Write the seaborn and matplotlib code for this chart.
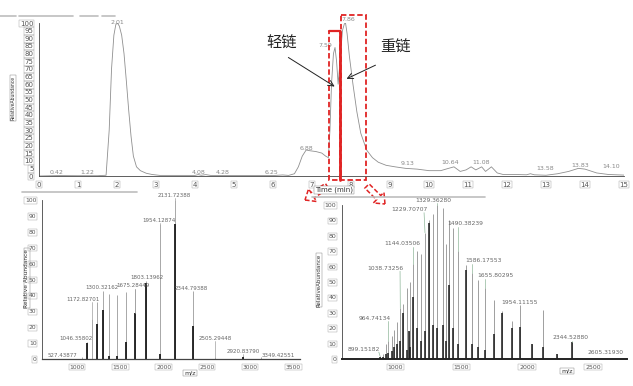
import matplotlib
matplotlib.use("Agg")
import numpy as np
import pandas as pd
import seaborn as sns
from matplotlib import pyplot as plt
from matplotlib.patches import Rectangle, FancyArrow
from matplotlib.ticker import MultipleLocator

sns.set_style("white")
plt.rcParams['font.family'] = ['DejaVu Sans', 'Noto Sans CJK SC']

# --- chromatogram (time in min, relative abundance %) ---
chrom_time = [0, 0.5, 1.0, 1.5, 1.72, 1.8, 1.86, 1.92, 1.97, 2.01, 2.06, 2.12, 2.18, 2.24,
              2.3, 2.36, 2.42, 2.5, 2.6, 2.75, 2.9, 3.1, 4.0, 4.08, 4.16, 4.28, 4.4, 5.0,
              6.0, 6.25, 6.4, 6.55, 6.65, 6.75, 6.85, 6.95, 7.1, 7.25, 7.35, 7.42, 7.46,
              7.5, 7.55, 7.59, 7.63, 7.67, 7.72, 7.78, 7.83, 7.86, 7.9, 7.96, 8.05, 8.15,
              8.25, 8.4, 8.55, 8.7, 8.9, 9.13, 9.4, 9.7, 10.0, 10.3, 10.5, 10.64, 10.8,
              10.95, 11.08, 11.2, 11.35, 11.45, 11.6, 11.75, 11.9, 12.2, 12.5, 12.6, 12.7,
              13.0, 13.3, 13.58, 13.83, 14.0, 14.3, 14.6, 15.0]
chrom_int = [0, 0.3, 0.2, 0.2, 0.5, 30, 70, 92, 99, 100, 98, 92, 80, 62,
             43, 26, 13, 6, 3.5, 1.8, 1, 0.4, 0.4, 0.9, 0.5, 0.9, 0.4, 0.3,
             0.3, 0.7, 0.4, 1.5, 6, 13, 17, 16.5, 16, 15, 13, 12, 30,
             60, 80, 84, 75, 60, 75, 95, 99.5, 100, 93, 78, 60, 42,
             28, 17, 12, 9, 7, 6, 5, 4.5, 3.5, 3.5, 5, 6, 3,
             4, 6, 4, 6, 3, 6, 2, 1, 1, 0.8, 1.5, 0.8,
             0.5, 1.5, 3, 5, 4.5, 2, 1, 0.6]
lc_labels = ['0.42', '1.22', '2.01', '4.08', '4.28', '6.25', '6.88', '7.59', '7.86',
             '9.13', '10.64', '11.08', '13.58', '13.83', '14.10']
lc_label_x = [0.46, 1.23, 2.0, 4.08, 4.72, 5.97, 6.87, 7.33, 7.92, 9.44, 10.54, 11.33, 12.97, 13.87, 14.68]
lc_label_y = [2, 2, 100.6, 2, 2, 2, 18.3, 85.6, 102.6, 8.5, 9, 9, 5.2, 7, 6]

# --- light chain spectrum (left) ---
lch_mz = [1054, 1112, 1170, 1227, 1297, 1373, 1458, 1562, 1673, 1800, 1955, 2128, 2343, 2594, 2920, 3121]
lch_int = [1.5, 10.5, 25, 36, 43, 41, 40, 42, 44, 49, 85, 100, 43, 1, 2.5, 1.5]
lch_dark_mz = [1112, 1227, 1297, 1373, 1458, 1562, 1673, 1800, 1955, 2128, 2343, 2920]
lch_dark_int = [10, 22, 31, 2, 2, 11, 29, 48, 3, 85, 21, 1.5]
lch_labels = ['527.43877', '1046.35802', '1172.82701', '1300.32162', '1675.28449', '1803.13962',
              '1954.12874', '2131.72388', '2344.79388', '2505.29448', '2920.83790', '3349.42551']
lch_label_x = [827, 988, 1069, 1289, 1647, 1808, 1947, 2120, 2316, 2594, 2917, 3321]
lch_label_y = [2.1, 12.6, 37.7, 45, 46, 51, 87.4, 103, 44.5, 13.2, 5, 2.5]
lch_target_x = [1054, 1112, 1170, 1297, 1673, 1800, 1955, 2128, 2343, 2594, 2920, 3121]
lch_target_y = [0.5, 10.5, 25, 43, 29, 49, 85, 100, 43, 1, 2.5, 1.5]

# --- heavy chain spectrum (right) ---
hch_mz = [886, 909, 932, 949, 975, 995, 1017, 1040, 1063, 1089, 1108, 1114, 1139, 1169, 1195,
          1227, 1258, 1286, 1320, 1366, 1386, 1411, 1442, 1480, 1536, 1581, 1631, 1682, 1752,
          1813, 1884, 1947, 2040, 2123, 2225, 2339]
hch_int = [2, 3, 10, 12, 15, 19, 24, 33, 36, 46, 18, 50, 62, 70, 68,
           82, 90, 94, 100, 98, 75, 90, 85, 70, 61, 56, 51, 46, 38,
           31, 25, 35, 10, 32, 3, 11]
hch_dark_int = [1, 1, 3, 4, 5, 8, 10, 12, 30, 6, 18, 8, 40, 20, 12,
                18, 88, 22, 20, 22, 12, 48, 20, 10, 58, 10, 8, 6, 16,
                30, 20, 21, 10, 8, 3, 11]
hch_labels = ['899.15182', '964.74134', '1038.73256', '1144.03506', '1229.70707', '1329.36280',
              '1490.38239', '1586.17553', '1655.80295', '1954.11155', '2344.52880', '2605.31930']
hch_label_x = [763, 846, 924, 1057, 1106, 1288, 1534, 1667, 1758, 1943, 2333, 2598]
hch_label_y = [6.5, 26.6, 59, 75, 97, 103, 88, 64, 54, 37, 14, 4]
hch_target_x = [886, 949, 1040, 1139, 1227, 1320, 1480, 1581, 1682, 1947, 2339, 2598]
hch_target_y = [2, 12, 33, 62, 82, 100, 70, 56, 46, 35, 11, 2]

GRAY = '#555555'


def xcal_axes(ax, xticks, xminor, yticks, yminor, fs):
    sns.despine(ax=ax)
    for side in ('left', 'bottom'):
        ax.spines[side].set_color('#444444')
        ax.spines[side].set_linewidth(0.6)
    ax.set_xticks(xticks)
    ax.set_yticks(yticks)
    ax.xaxis.set_minor_locator(MultipleLocator(xminor))
    ax.yaxis.set_minor_locator(MultipleLocator(yminor))
    ax.tick_params(which='major', length=2.5, width=0.5, labelsize=fs, pad=1.5, colors=GRAY)
    ax.tick_params(which='minor', length=1.3, width=0.4, colors=GRAY)
    ax.set_xlabel('')
    ax.set_ylabel('')
    ax.set_facecolor('none')
    for lab in ax.get_xticklabels() + ax.get_yticklabels():
        lab.set_bbox(dict(boxstyle='square,pad=0.12', fc='none', ec='#9a9a9a', lw=0.3))


def label_peaks(ax, labels, lx, ly, tx, ty, hw, fs, lead):
    for s, x, y, px, py in zip(labels, lx, ly, tx, ty):
        ax.text(x, y, s, ha='center', va='center', fontsize=fs, color='#666666', clip_on=False)
        ax_x = min(max(px, x - hw), x + hw)
        if py < y - 2:
            ax.plot([ax_x, px], [y - 2, py], color=lead, lw=0.5, clip_on=False)


fig = plt.figure(figsize=(6.33, 3.86), dpi=100)

# chromatogram
ax_lc = fig.add_axes([0.0616, 0.544, 0.9242, 0.3964])
sns.lineplot(x=chrom_time, y=chrom_int, ax=ax_lc, color='#8f8f8f', linewidth=0.6)
ax_lc.set_xlim(0, 15)
ax_lc.set_ylim(0, 100)
xcal_axes(ax_lc, list(range(0, 16)), 0.2, list(range(0, 101, 5)), 1, 5)
for s, x, y in zip(lc_labels, lc_label_x, lc_label_y):
    ax_lc.text(x, y, s, ha='center', va='center', fontsize=4.5, color='#888888', clip_on=False)

# light chain spectrum
ax_l = fig.add_axes([0.0664, 0.0699, 0.4076, 0.4119])
ax_l.vlines(lch_mz, 0, lch_int, color='#9a9a9a', lw=0.6)
ax_l.vlines(lch_dark_mz, 0, lch_dark_int, color='#1a1a1a', lw=1.3)
ax_l.set_xlim(596, 3575)
ax_l.set_ylim(0, 100)
xcal_axes(ax_l, [1000, 1500, 2000, 2500, 3000, 3500], 50, list(range(0, 101, 10)), 5, 4.3)
ax_l.spines['bottom'].set_linewidth(0.9)
label_peaks(ax_l, lch_labels, lch_label_x, lch_label_y, lch_target_x, lch_target_y, 144, 4.0, '#a0a0a0')

# heavy chain spectrum
ax_h = fig.add_axes([0.5403, 0.0699, 0.4502, 0.399])
ax_h.vlines(hch_mz, 0, hch_int, color='#8f8f8f', lw=0.6)
ax_h.vlines(hch_mz, 0, hch_dark_int, color='#1a1a1a', lw=1.1)
ax_h.set_xlim(598, 2758)
ax_h.set_ylim(0, 100)
xcal_axes(ax_h, [1000, 1500, 2000, 2500], 50, list(range(0, 101, 10)), 5, 4.5)
ax_h.spines['bottom'].set_linewidth(1.4)
ax_h.spines['bottom'].set_color('#222222')
label_peaks(ax_h, hch_labels, hch_label_x, hch_label_y, hch_target_x, hch_target_y, 114, 4.3, '#8fb79a')

# overlay in pixel coordinates for annotations
ov = fig.add_axes([0, 0, 1, 1], zorder=10)
ov.set_xlim(0, 633)
ov.set_ylim(386, 0)
ov.axis('off')

for x0, x1, y in [(0, 16, 16), (19, 73, 16), (80, 98, 16), (102, 115, 16),
                  (22, 137, 192), (312, 485, 197)]:
    ov.plot([x0, x1], [y, y], color='#bdbdbd', lw=1.2)

box = dict(boxstyle='square,pad=0.15', fc='none', ec='#777777', lw=0.3)
ov.text(13, 98, 'RelativeAbundance', rotation=90, ha='center', va='center', fontsize=3.3, color='#333333', bbox=box)
ov.text(27, 278, 'Relative Abundance', rotation=90, ha='center', va='center', fontsize=4.2, color='#333333', bbox=box)
ov.text(319, 280, 'RelativeAbundance', rotation=90, ha='center', va='center', fontsize=4.0, color='#333333', bbox=box)
ov.text(334, 190, 'Time (min)', ha='center', va='center', fontsize=5, color='#333333',
        bbox=dict(boxstyle='square,pad=0.15', fc='white', ec='#777777', lw=0.3))
ov.text(190, 373, 'm/z', ha='center', va='center', fontsize=4.5, color='#333333', bbox=box)
ov.text(567, 371, 'm/z', ha='center', va='center', fontsize=4.5, color='#333333', bbox=box)

RED = '#e02424'
ov.add_patch(Rectangle((329, 31), 10.5, 149, fill=False, ec=RED, lw=1.3, ls=(0, (3, 1.5))))
ov.add_patch(Rectangle((341, 15), 25, 165, fill=False, ec=RED, lw=1.3, ls=(0, (3, 1.5))))
ov.plot([339.5, 339.5], [31, 180], color=RED, lw=2)
ov.plot([329, 339.5], [31, 31], color=RED, lw=1.6)
ov.add_patch(FancyArrow(327, 186, -22, 14, width=6, head_width=15, head_length=9,
                        length_includes_head=True, fill=False, ec=RED, lw=1.1, ls=(0, (3, 1.5))))
ov.add_patch(FancyArrow(367, 186, 18, 18, width=6, head_width=15, head_length=9,
                        length_includes_head=True, fill=False, ec=RED, lw=1.1, ls=(0, (3, 1.5))))

cjk = ['Noto Sans CJK SC', 'DejaVu Sans']
ov.text(282, 43, '轻链', ha='center', va='center', fontsize=11, family=cjk, color='#222222')
ov.text(395, 47, '重链', ha='center', va='center', fontsize=11, family=cjk, color='#222222')
ov.annotate('', xy=(337, 88), xytext=(286, 56),
            arrowprops=dict(arrowstyle='->', color='#222222', lw=0.7))
ov.annotate('', xy=(344, 80), xytext=(378, 64),
            arrowprops=dict(arrowstyle='->', color='#222222', lw=0.7))

fig.savefig('out.png', dpi=100)
